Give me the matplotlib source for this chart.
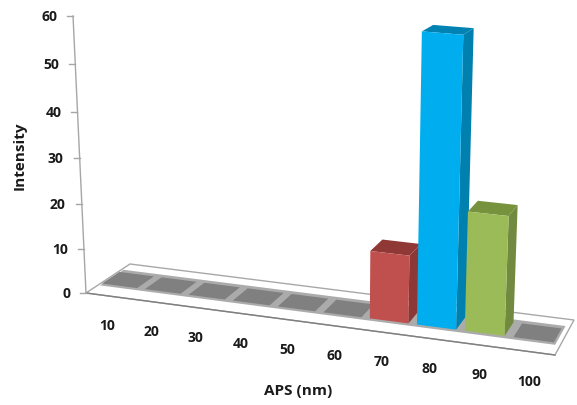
import numpy as np
import matplotlib
matplotlib.use("Agg")
import matplotlib.pyplot as plt
from matplotlib.patches import Polygon

plt.rcParams['font.family'] = ['Open Sans', 'DejaVu Sans']

categories = ['10', '20', '30', '40', '50', '60', '70', '80', '90', '100']
intensity = [0, 0, 0, 0, 0, 0, 14, 58, 24.2, 0]
y_ticks = [0, 10, 20, 30, 40, 50, 60]

front_colors = ['#808080'] * 6 + ['#C0504D', '#00AEEF', '#9BBB59', '#808080']
side_colors = ['#808080'] * 6 + ['#8C3836', '#0080AE', '#728A40', '#808080']
top_colors = ['#808080'] * 6 + ['#8F3836', '#0083B3', '#76923C', '#808080']

# corners of the floor in the picture (front left, front right, back right, back left)
floor_px = [(86, 294), (555, 356), (574, 321), (130, 265)]
vanish_y = (330, 5500)  # verticals meet down there
top_of_axis = (72, 17)
z_max = 60
bar_gain = 1.06  # bars stand nearer the viewer than the axis does


def floor_matrix(pts):
    # unit square -> picture
    (x0, y0), (x1, y1), (x2, y2), (x3, y3) = pts
    a = np.array([[x1 - x2, x3 - x2], [y1 - y2, y3 - y2]], float)
    b = np.array([x0 - x1 + x2 - x3, y0 - y1 + y2 - y3], float)
    g, h = np.linalg.solve(a, b)
    return np.array([[x1 - x0 + g * x1, x3 - x0 + h * x3, x0],
                     [y1 - y0 + g * y1, y3 - y0 + h * y3, y0],
                     [g, h, 1.0]])


H = floor_matrix(floor_px)
scale = (floor_px[0][1] - top_of_axis[1]) / (z_max * (top_of_axis[1] - vanish_y[1]))
z_col = scale * np.array([vanish_y[0], vanish_y[1], 1.0])


def project(u, d, z=0.0):
    p = H @ np.array([u, d, 1.0]) + z * z_col
    return p[0] / p[2], p[1] / p[2]


fig = plt.figure(figsize=(5.77, 4.06), dpi=100)
ax = fig.add_axes([0, 0, 1, 1])
ax.set_xlim(0, 577)
ax.set_ylim(406, 0)
ax.axis('off')

# floor
corners = [project(0, 0), project(1, 0), project(1, 1), project(0, 1)]
ax.add_patch(Polygon(corners, closed=True, facecolor='white', edgecolor='#A8A8A8', lw=1.0, zorder=1))
ax.plot(*zip(corners[0], corners[1]), color='#808080', lw=1.0, zorder=1.5)

# band the bars stand on
band = [project(0.005, 0.26), project(0.99, 0.26), project(0.99, 0.8), project(0.005, 0.8)]
ax.add_patch(Polygon(band, closed=True, facecolor='#ABABAB', edgecolor='none', zorder=2))

n = len(categories)
gap = 0.009
shift = -0.006
d0, d1 = 0.32, 0.72
for i, val in enumerate(intensity):
    u0 = (i + gap * n) / n + shift
    u1 = (i + 1 - gap * n) / n + shift
    h = val * bar_gain
    side = [project(u1, d0), project(u1, d1), project(u1, d1, h), project(u1, d0, h)]
    top = [project(u0, d0, h), project(u1, d0, h), project(u1, d1, h), project(u0, d1, h)]
    front = [project(u0, d0), project(u1, d0), project(u1, d0, h), project(u0, d0, h)]
    ax.add_patch(Polygon(side, closed=True, facecolor=side_colors[i], edgecolor='none', zorder=3 + i))
    ax.add_patch(Polygon(top, closed=True, facecolor=top_colors[i], edgecolor='none', zorder=3 + i))
    ax.add_patch(Polygon(front, closed=True, facecolor=front_colors[i], edgecolor='none', zorder=3 + i))

# y axis
ax.plot(*zip(project(0, 0, 0), project(0, 0, z_max)), color='#A6A6A6', lw=1.0, zorder=2)
for t in y_ticks:
    x, y = project(0, 0, t)
    ax.plot([x - 6, x], [y, y], color='#A6A6A6', lw=1.0, zorder=2)
    ax.annotate(str(t), (x, y), xytext=(-11.5, 0), textcoords='offset points',
                ha='right', va='center', fontsize=10, fontweight='bold', color='#1A1A1A')

# category labels
for i, c in enumerate(categories):
    x, y = project((i + 0.5) / n, 0)
    ax.annotate(c, (x, y), xytext=(-0.5, -21), textcoords='offset points',
                ha='center', va='center', fontsize=10, fontweight='bold', color='#1A1A1A')

ax.text(298, 391, 'APS (nm)', ha='center', va='center', fontsize=11, fontweight='bold', color='#1A1A1A')
ax.text(20, 155.5, 'Intensity', ha='center', va='center', rotation=90, fontsize=11, fontweight='bold', color='#1A1A1A')

fig.savefig('out.png', dpi=100)
